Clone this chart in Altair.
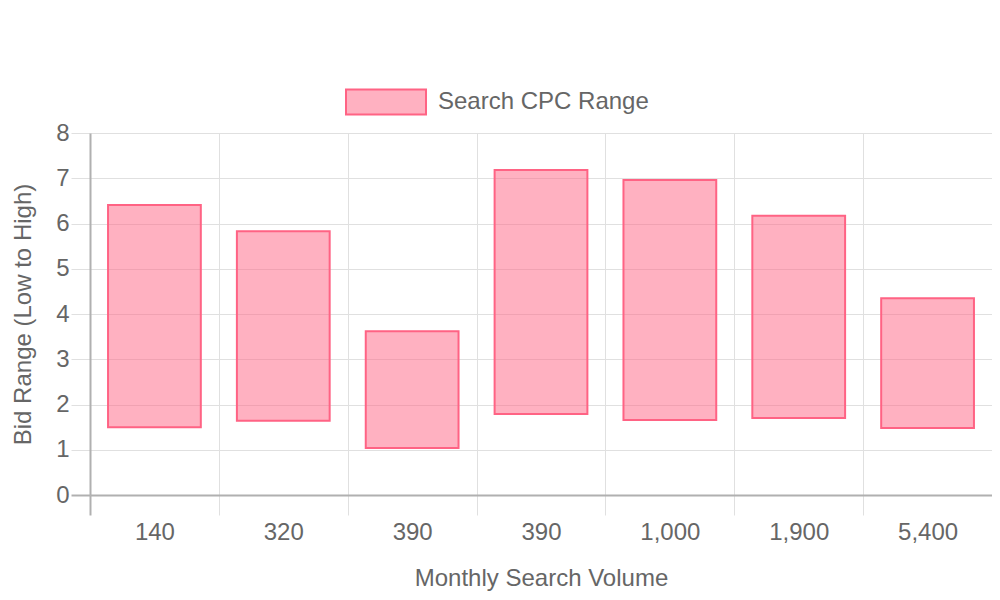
import altair as alt
import pandas as pd

volumes = ["140", "320", "390", "390", "1,000", "1,900", "5,400"]
low_bids = [1.50, 1.64, 1.04, 1.79, 1.66, 1.70, 1.48]
high_bids = [6.41, 5.83, 3.62, 7.18, 6.96, 6.17, 4.35]
series_name = "Search CPC Range"

df = pd.DataFrame({
    "idx": list(range(len(volumes))),
    "volume": volumes,
    "low": low_bids,
    "high": high_bids,
    "series": [series_name] * len(volumes),
})

label_expr = "[" + ",".join(f"'{v}'" for v in volumes) + "][datum.value]"

FONT = "Liberation Sans"
TXT = "#666666"
GRID = "#e0e0e0"
DOMAIN = "#b0b0b0"

chart = alt.Chart(df).mark_bar(
    width=alt.RelativeBandSize(0.72),
    stroke="#FF6384",
    strokeWidth=2,
).encode(
    x=alt.X(
        "idx:O",
        scale=alt.Scale(paddingInner=0, paddingOuter=0),
        axis=alt.Axis(
            title="Monthly Search Volume",
            labelExpr=label_expr,
            labelAngle=0,
            tickBand="extent",
            grid=True,
            gridColor=GRID,
            tickColor={"condition": {"test": "datum.index < 0", "value": DOMAIN}, "value": GRID},
            tickWidth={"condition": {"test": "datum.index < 0", "value": 2}, "value": 1},
            tickSize=20,
            labelPadding=5,
            titlePadding=22,
            domainColor=DOMAIN,
        ),
    ),
    y=alt.Y(
        "low:Q",
        scale=alt.Scale(domain=[0, 8], nice=False),
        axis=alt.Axis(
            title="Bid Range (Low to High)",
            values=list(range(9)),
            grid=True,
            gridColor=GRID,
            tickColor={"condition": {"test": "datum.value == 0", "value": DOMAIN}, "value": GRID},
            tickWidth={"condition": {"test": "datum.value == 0", "value": 2}, "value": 1},
            tickSize=19,
            labelPadding=2,
            titlePadding=20,
            domainColor=DOMAIN,
        ),
    ),
    y2="high:Q",
    fill=alt.Fill(
        "series:N",
        scale=alt.Scale(range=["rgba(255,99,132,0.5)"]),
        legend=alt.Legend(
            title=None,
            orient="none",
            legendX=255,
            legendY=-72,
            padding=0,
            symbolType="M-1,-0.3125H1V0.3125H-1Z",
            symbolSize=6400,
            symbolStrokeColor="#FF6384",
            symbolStrokeWidth=2,
            labelFont=FONT,
            labelFontSize=24,
            labelColor=TXT,
            labelOffset=11,
            labelLimit=400,
        ),
    ),
).properties(
    width=902,
    height=362,
    padding={"left": 82, "top": 125, "right": 0, "bottom": 97},
    autosize=alt.AutoSizeParams(type="none"),
).configure_axis(
    labelFont=FONT,
    labelFontSize=24,
    labelColor=TXT,
    titleFont=FONT,
    titleFontSize=24,
    titleColor=TXT,
    titleFontWeight="normal",
    domainWidth=2,
).configure_view(
    stroke=None,
)

chart.save("out.html", embed_options={"renderer": "svg", "actions": False})
